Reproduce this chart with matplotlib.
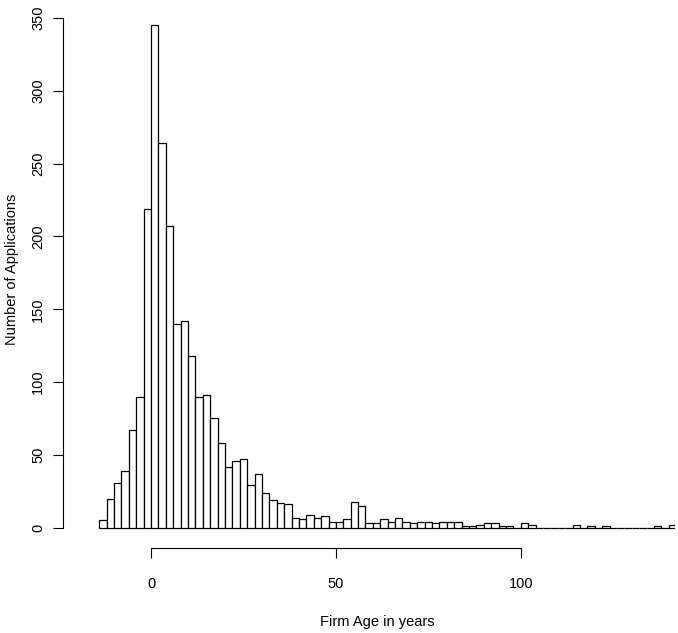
import matplotlib
matplotlib.use("Agg")
import matplotlib.pyplot as plt
import numpy as np

plt.rcParams['font.family'] = ['Liberation Sans', 'DejaVu Sans']

bin_start = -14
bin_width = 2
counts = [5, 20, 31, 39, 67, 90, 219, 345, 264, 207, 140, 142, 118, 90, 91, 75, 58, 42, 46, 47,
          29, 37, 24, 19, 17, 16, 7, 6, 9, 7, 8, 4, 4, 6, 18, 15, 3, 3, 6, 4, 7, 4, 3, 4,
          4, 3, 4, 4, 4, 1, 1, 2, 3, 3, 1, 1, 0, 3, 2, 0, 0, 0, 0, 0, 2, 0, 1, 0, 1, 0,
          0, 0, 0, 0, 0, 1, 0, 2, 1]
lefts = [bin_start + bin_width * i for i in range(len(counts))]
xticks = [0, 50, 100]
yticks = [0, 50, 100, 150, 200, 250, 300, 350]

fig = plt.figure(figsize=(6.78, 6.33), dpi=100)
ax = fig.add_axes([80/678, (633-535)/633, (675-80)/678, (535-3.4)/633])
ax.bar(lefts, counts, width=bin_width, align='edge', facecolor='white', edgecolor='black', linewidth=0.9)
ax.set_xlim(-19.2, 141.7)
ax.set_ylim(-5, 360)
for s in ['top', 'right']:
    ax.spines[s].set_visible(False)
ax.spines['left'].set_position(('outward', 12))
ax.spines['left'].set_bounds(0, 350)
ax.spines['bottom'].set_position(('outward', 9))
ax.spines['bottom'].set_bounds(0, 100)
ax.set_xticks(xticks)
ax.set_yticks(yticks)
ax.set_yticklabels([str(v) for v in yticks], rotation=90, va='center')
ax.tick_params(direction='out', length=7, labelsize=10.5)
ax.tick_params(axis='x', pad=14)
ax.tick_params(axis='y', pad=6)
ax.set_xlabel('Firm Age in years', fontsize=10.5)
ax.set_ylabel('Number of Applications', fontsize=10.5)
ax.xaxis.set_label_coords(0.5, -(615-535)/531.6, transform=ax.transAxes)
ax.yaxis.set_label_coords(-(80-19)/595, 0.5, transform=ax.transAxes)
fig.savefig('out.png', dpi=100)
